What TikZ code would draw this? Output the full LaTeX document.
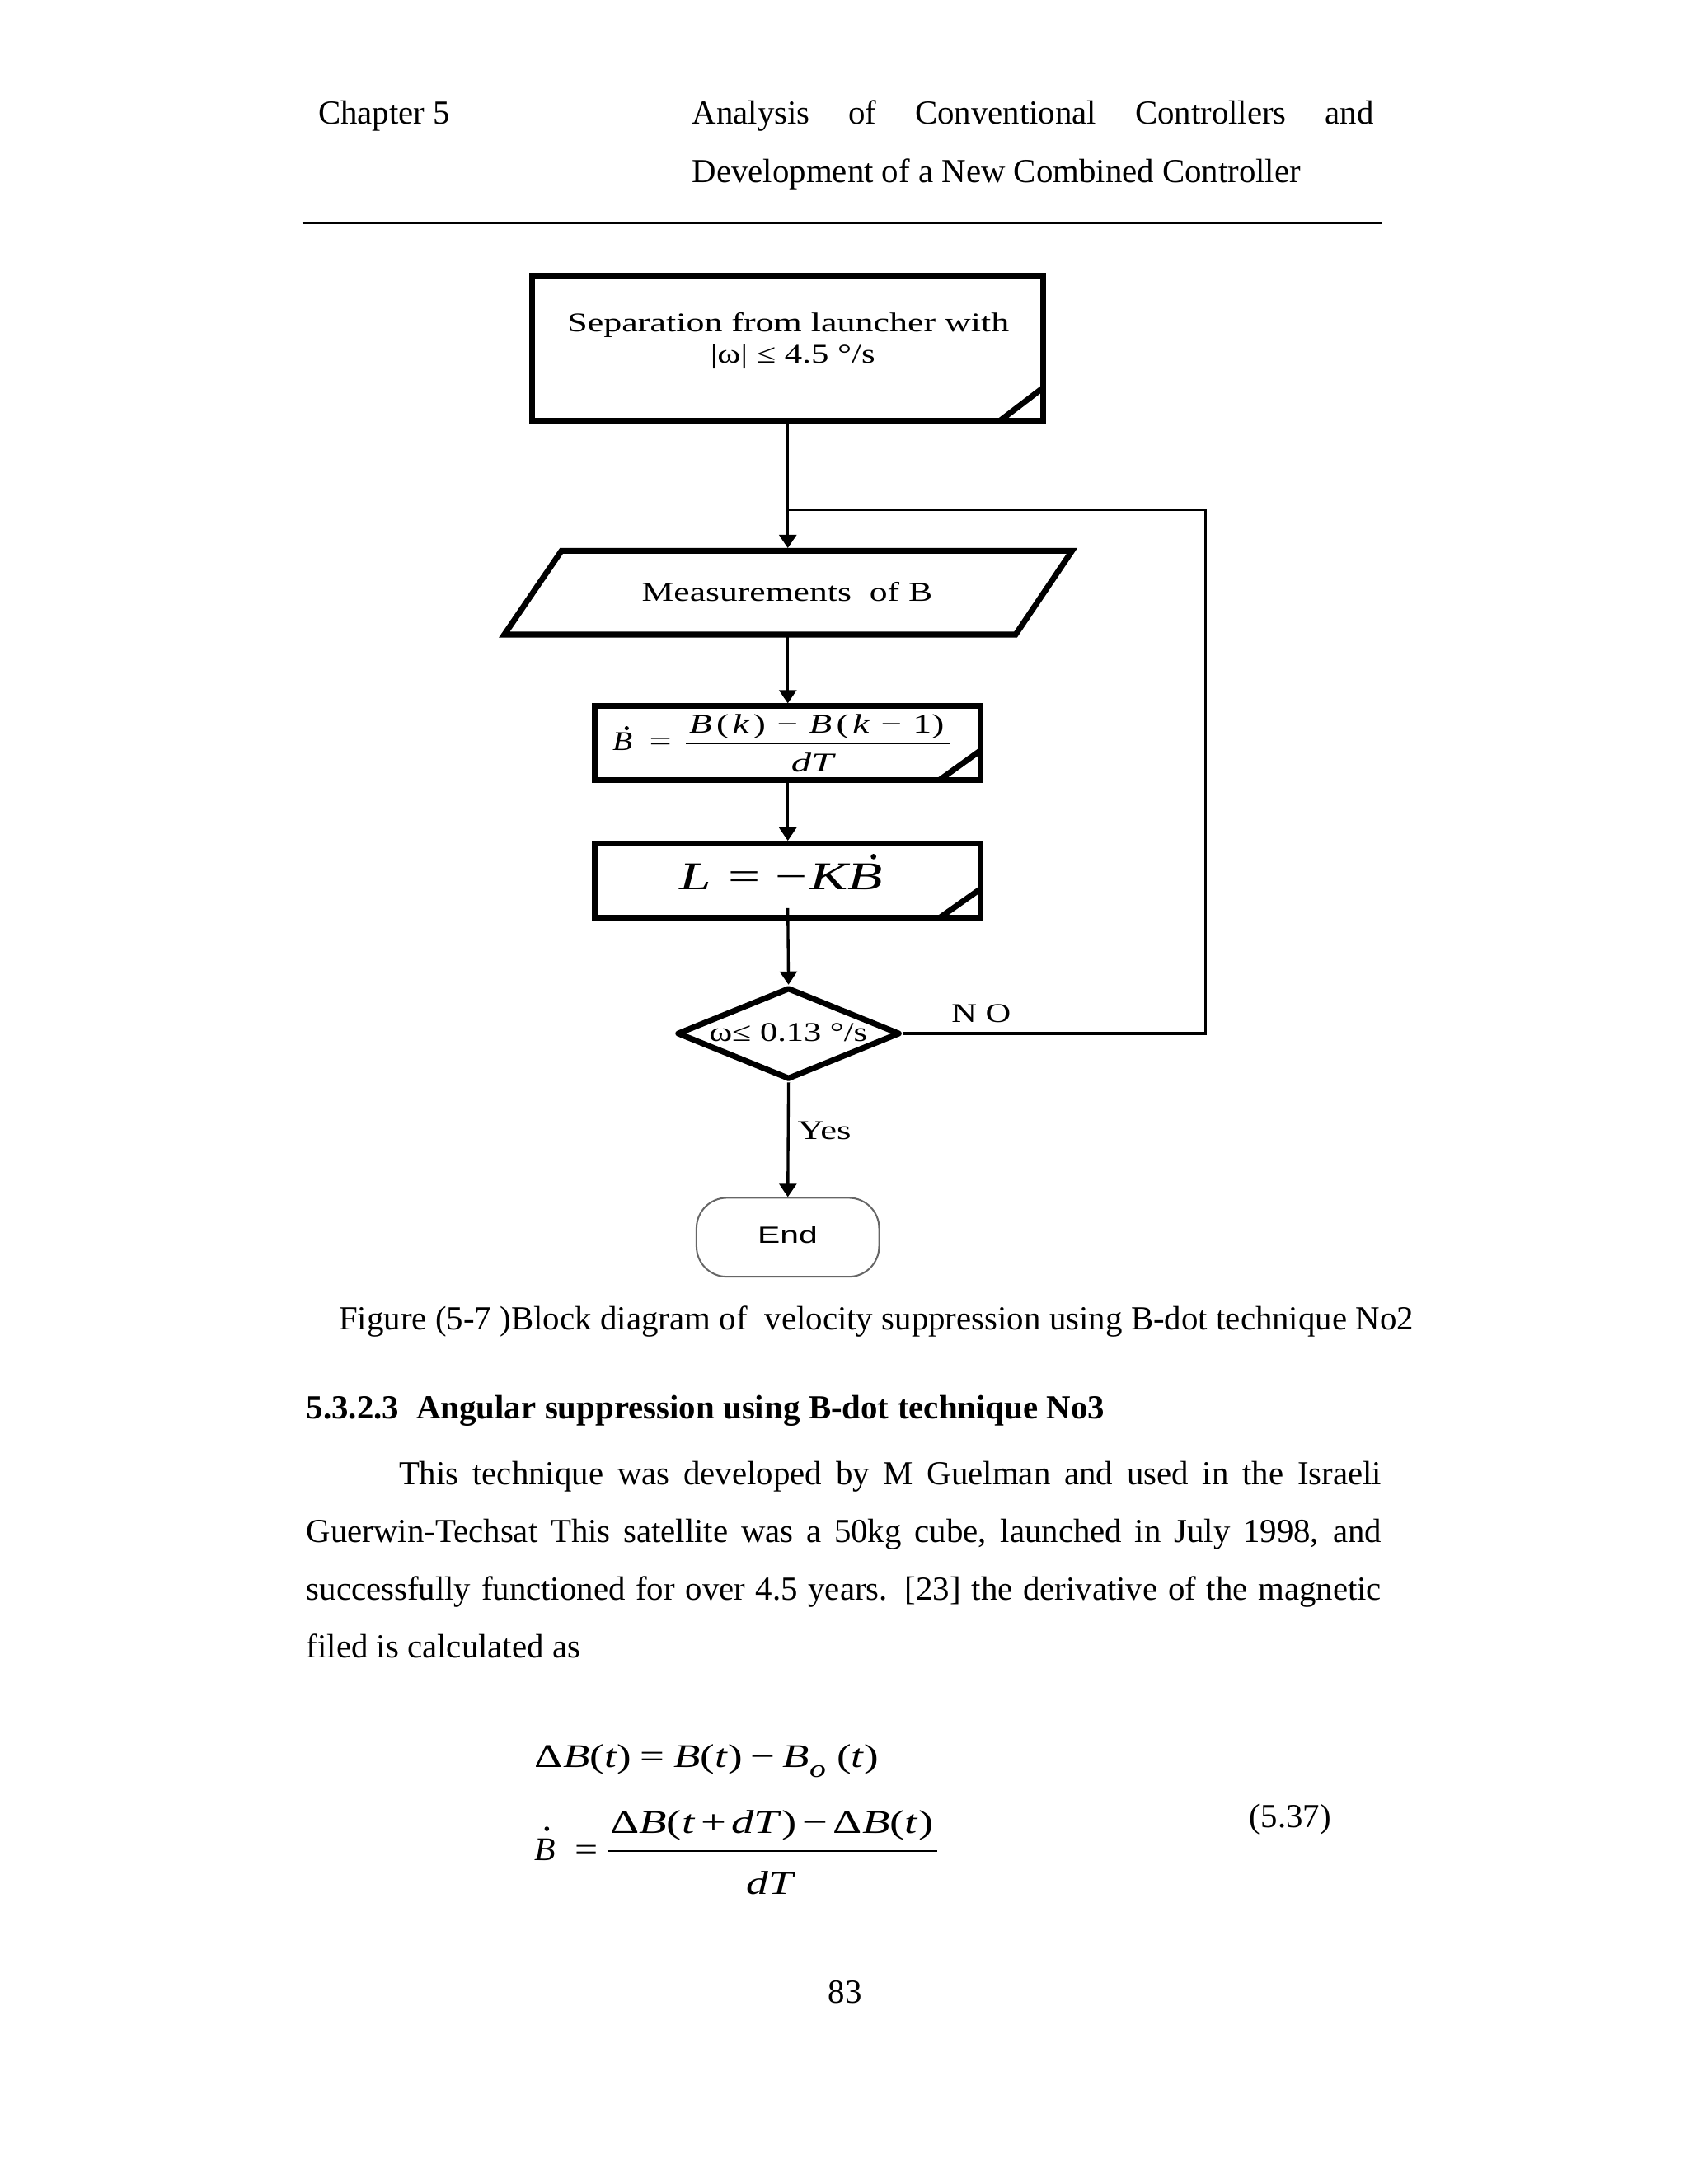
\documentclass[tikz,border=0pt]{standalone}
\usepackage{fontspec}
\setmainfont{Liberation Serif}
\newfontfamily\sansf{Liberation Sans}
\usepackage{graphicx}
\usetikzlibrary{arrows.meta,shapes.geometric}
\newcommand\fitw[2]{\resizebox{#1}{\height}{#2}}
\newcommand\hs[1]{\hspace{#1em}}
\newcommand\dfs{\fontsize{9.8}{12}\selectfont}
\newcommand\bfs{\fontsize{12.2}{14}\selectfont}
\newcommand\efs{\fontsize{12}{14}\selectfont}
\begin{document}
\begin{tikzpicture}[x=0.505pt,y=-0.505pt,
  txt/.style={inner sep=0pt,outer sep=0pt,text=black},
  boxln/.style={draw=black,line width=2.1pt,inner sep=0pt,outer sep=1pt},
  conn/.style={draw=black,line width=1pt},
  arr/.style={conn,-{Triangle[length=4.8pt,width=6.2pt]}},
  diag/.style={draw=black,line width=2.1pt},
  dotacc/.style={fill=black}
]
\fill[white] (0,0) rectangle (1212,1568);
\useasboundingbox (0,0) rectangle (1212,1568);

% header
\node[txt,anchor=base west] (chap) at (228.4,89.2) {\bfs Chapter 5};
\node[txt,anchor=base west] (h1) at (496.9,89.2) {\bfs\makebox[247pt][s]{Analysis of Conventional Controllers and}};
\node[txt,anchor=base west] (h2) at (496.9,131.2) {\bfs Development of a New Combined Controller};
\draw[line width=1pt] (217,160.2) -- (991.7,160.2);

% top box
\node[boxln,minimum width=185.3pt,minimum height=52.5pt] (b1) at (565.5,250) {};
\draw[diag] ([xshift=-16.7pt,yshift=1pt]b1.south east) -- ([xshift=-1pt,yshift=13pt]b1.south east);
\node[txt,anchor=base] (t1a) at (565.9,238.3) {\fitw{160.1pt}{\dfs Separation from launcher with}};
\node[txt,anchor=base] (t1b) at (569.1,260.4) {\fitw{59.7pt}{\dfs |ω| ≤ 4.5 °/s}};

% parallelogram
\coordinate (pTL) at (403,395.5);
\coordinate (pTR) at (769.5,395.5);
\coordinate (pBR) at (729,455.6);
\coordinate (pBL) at (362,455.6);
\draw[line width=2.1pt,line join=miter] (pTL) -- (pTR) -- (pBR) -- (pBL) -- cycle;
\node[txt,anchor=base] (meas) at (565,431.6) {\fitw{105.3pt}{\dfs Measurements~ of B}};
\coordinate (ptop) at (565.5,393.5);
\coordinate (pbot) at (565.5,457.6);

% B-dot box
\node[boxln,minimum width=139.9pt,minimum height=26.8pt] (b2) at (565.5,533.5) {};
\draw[diag] ([xshift=-16pt,yshift=1pt]b2.south east) -- ([xshift=-1pt,yshift=11.8pt]b2.south east);
\node[txt,anchor=base west] (bd) at (439.7,538.5) {\fitw{7.2pt}{\dfs\textit{B}}};
\fill[dotacc] (449.9,522.8) circle[radius=0.75pt];
\node[txt,anchor=base west] (beq) at (466,538.5) {\fitw{8.1pt}{\dfs =}};
\node[txt,anchor=base] (num) at (586.2,526.6) {\fitw{92.4pt}{\dfs\textit{B}\hs{0.12}(\hs{0.1}\textit{k}\hs{0.1})\hs{0.3}−\hs{0.3}\textit{B}\hs{0.12}(\hs{0.1}\textit{k}\hs{0.3}−\hs{0.3}1)}};
\draw[line width=0.6pt] (492,533.7) -- (682,533.7);
\node[txt,anchor=base] (dT1) at (584,553.9) {\fitw{16.2pt}{\dfs\textit{dT}}};

% L box
\node[boxln,minimum width=139.9pt,minimum height=27pt] (b3) at (565.5,632.3) {};
\draw[diag] ([xshift=-16pt,yshift=1pt]b3.south east) -- ([xshift=-1pt,yshift=11.6pt]b3.south east);
\node[txt,anchor=base west] (lk) at (487.7,639) {\fitw{73.8pt}{\fontsize{14.3}{16}\selectfont\textit{L}\hs{0.3}=\hs{0.25}−\hs{0.05}\textit{KB}}};
\fill[dotacc] (627,615) circle[radius=1pt];
\coordinate (b3out) at (565.5,652);

% decision
\node[diamond,draw=black,line width=2.1pt,line join=round,inner sep=0pt,minimum width=80.8pt,minimum height=33.3pt] (dia) at (566,742) {};
\node[txt,anchor=base] (dt) at (565.8,747.6) {\fitw{57.3pt}{\dfs ω≤ 0.13 °/s}};
\node[txt,anchor=base] (no) at (704.3,733.7) {\fitw{21.5pt}{\dfs N O}};
\node[txt,anchor=base] (yes) at (591.75,817.8) {\fitw{19.4pt}{\dfs Yes}};

% end
\node[draw=black!60,line width=0.6pt,rounded corners=11pt,minimum width=66.2pt,minimum height=28.6pt,inner sep=0pt] (endb) at (565.5,888.3) {};
\node[txt,anchor=base] (endt) at (565.3,892.5) {\fitw{21.7pt}{\sansf\fontsize{8.5}{10}\selectfont End}};

% connectors
\coordinate (join) at (565.5,366);
\coordinate (rc) at (865.5,366);
\draw[arr] (b1.south) -- (ptop);
\draw[conn] (dia.east) -| (rc) -- (join);
\draw[arr] (pbot) -- (b2.north);
\draw[arr] (b2.south) -- (b3.north);
\draw[arr] (b3out) -- (dia.north);
\draw[arr] (dia.south) -- (endb.north);

% body text
\node[txt,anchor=base west] (cap) at (243.3,954.6) {\bfs\makebox[389.6pt][s]{Figure (5-7 )Block diagram of\ \ velocity suppression using B-dot technique No2}};
\node[txt,anchor=base west] (sec) at (220,1018.8) {\bfs\bfseries\makebox[289.4pt][s]{5.3.2.3\ \ Angular suppression using B-dot technique No3}};
\node[txt,anchor=base west] (p1) at (286.4,1066) {\bfs\makebox[356.2pt][s]{This technique was developed by M Guelman and used in the Israeli}};
\node[txt,anchor=base west] (p2) at (220,1107.5) {\bfs\makebox[389.7pt][s]{Guerwin-Techsat This satellite was a 50kg cube, launched in July 1998, and}};
\node[txt,anchor=base west] (p3) at (220,1149) {\bfs\makebox[389.7pt][s]{successfully functioned for over 4.5 years. [23] the derivative of the magnetic}};
\node[txt,anchor=base west] (p4) at (220,1190.4) {\bfs filed is calculated as};

% equations
\node[txt,anchor=base west] (e1) at (384,1269) {\fitw{124.7pt}{\efs Δ\textit{B}(\textit{t})\hs{0.2}=\hs{0.2}\textit{B}(\textit{t})\hs{0.18}−\hs{0.18}\textit{B}\raisebox{-3.5pt}{\fontsize{9}{9}\selectfont\textit{o}}\hs{0.25}(\textit{t})}};
\node[txt,anchor=base west] (e2b) at (384,1336) {\fitw{7.6pt}{\efs\textit{B}}};
\fill[dotacc] (392.5,1313) circle[radius=0.85pt];
\node[txt,anchor=base west] (e2eq) at (413,1336) {\fitw{8.4pt}{\efs =}};
\node[txt,anchor=base] (e2n) at (554,1316) {\fitw{117.2pt}{\efs Δ\textit{B}(\textit{t}\hs{0.12}+\hs{0.12}\textit{dT})\hs{0.12}−\hs{0.12}Δ\textit{B}(\textit{t})}};
\draw[line width=0.7pt] (436,1329) -- (673,1329);
\node[txt,anchor=base] (e2d) at (553.3,1360) {\fitw{17.9pt}{\efs\textit{dT}}};
\node[txt,anchor=base west] (eqn) at (897,1312) {\bfs (5.37)};
\node[txt,anchor=base] (pg) at (606.5,1438) {\bfs 83};
\end{tikzpicture}
\end{document}
